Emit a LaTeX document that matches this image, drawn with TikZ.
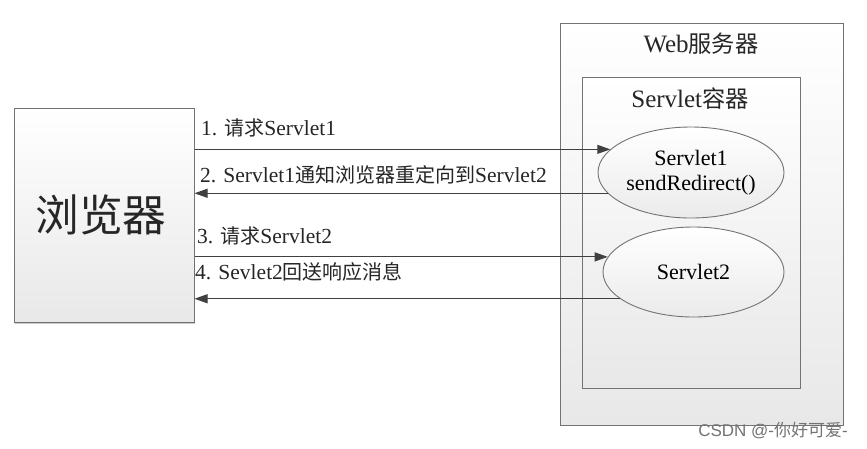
\documentclass[tikz,border=0pt]{standalone}
\usepackage{fontspec}
\setmainfont{Liberation Serif}
\newfontfamily\cjk{Noto Sans CJK SC}
\newfontfamily\wmfont{Liberation Sans}
\usetikzlibrary{shapes.geometric,arrows.meta,shadows}
\newcommand{\zh}[1]{{\cjk\addfontfeature{Scale=0.93}#1}}
\begin{document}
\begin{tikzpicture}[x=1pt,y=-1pt,
  boxstyle/.style={draw=black!55, line width=1pt, inner sep=0pt,
    top color=white, bottom color=black!9,
    drop shadow={shadow xshift=1.2pt, shadow yshift=-1.2pt, fill=black!35, opacity=0.6}},
  ovalstyle/.style={ellipse, draw=black!55, line width=0.9pt, inner sep=0pt,
    top color=white, bottom color=black!8, align=center,
    font=\fontsize{22}{27}\selectfont},
  msg/.style={draw=black!75, line width=1pt, -{Triangle[length=13pt,width=9pt]}},
  lbl/.style={anchor=base west, inner sep=0pt, font=\fontsize{21.5}{25}\selectfont, text=black!85},
  ttl/.style={inner sep=0pt, font=\fontsize{25}{29}\selectfont, text=black!85}
]
\useasboundingbox (0,0) rectangle (867,448);
\fill[white] (0,0) rectangle (867,448);

% boxes
\node[boxstyle, minimum width=283pt, minimum height=402pt] (web) at (701.5,224) {};
\node[boxstyle, minimum width=218pt, minimum height=311pt] (ctr) at (691,232.5) {};
\node[boxstyle, minimum width=180pt, minimum height=214pt] (browser) at (104,215.5) {};

\node[inner sep=0pt, font=\fontsize{47}{50}\selectfont, text=black!85] (bt) at (101,215) {\zh{浏览器}};

\node[ttl] (webt) at (701,44) {Web\zh{服务器}};
\node[ttl] (ctrt) at (690,99) {Servlet\zh{容器}};

% servlets
\node[ovalstyle, minimum width=186pt, minimum height=91pt] (s1) at (691,172.5) {Servlet1\\[-2pt]sendRedirect()};
\node[ovalstyle, minimum width=181pt, minimum height=90pt] (s2) at (693.5,272) {Servlet2};

% messages
\draw[msg] (browser.east |- s1.164) -- (s1.164);
\draw[msg] (s1.194) -- (browser.east |- s1.194);
\draw[msg] (browser.east |- s2.170) -- (s2.170);
\draw[msg] (s2.200) -- (browser.east |- s2.200);

\node[lbl] (l1) at (201,135) {1. \zh{请求}Servlet1};
\node[lbl] (l2) at (200,182) {2. Servlet1\zh{通知浏览器重定向到}Servlet2};
\node[lbl] (l3) at (197,243) {3. \zh{请求}Servlet2};
\node[lbl] (l4) at (195,279) {4. Sevlet2\zh{回送响应消息}};

% watermark
\node[anchor=base east, inner sep=0pt, text=black!55, font=\wmfont\fontsize{17}{19}\selectfont] (wm) at (848,436) {CSDN @-{\cjk 你好可爱}-};
\end{tikzpicture}
\end{document}
